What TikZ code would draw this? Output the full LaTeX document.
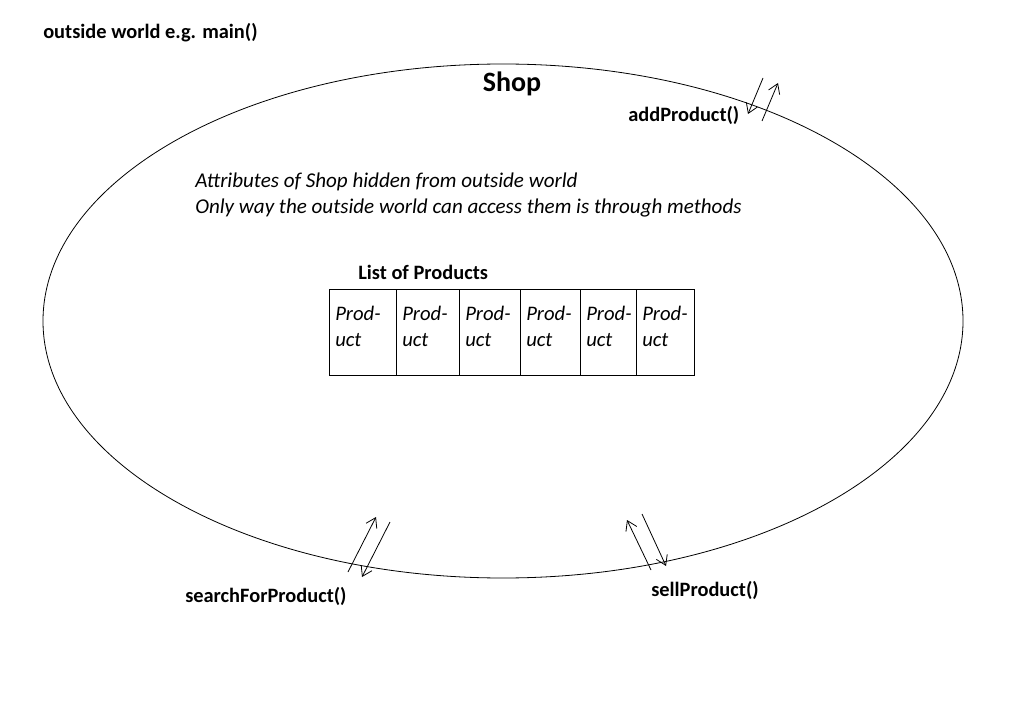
\documentclass[tikz,border=0pt]{standalone}
\usepackage{fontspec}
\setmainfont{Carlito}
\usetikzlibrary{arrows.meta}
\begin{document}
\begin{tikzpicture}[x=0.75pt,y=-0.75pt,
  lbl/.style={font=\bfseries\fontsize{15.3}{17}\selectfont,inner sep=0pt},
  arr/.style={-{Straight Barb[length=7pt,width=9pt]},line width=0.6pt},
  cell/.style={draw,line width=0.6pt,minimum height=64.5pt,anchor=north west,inner sep=0pt}]
\useasboundingbox[fill=white] (0,0) rectangle (1010,709);
\node[lbl,anchor=west] (ow) at (43,33) {outside world e.g. main()};
\draw[line width=0.6pt] (503,321) ellipse [x radius=460, y radius=257];
\node[lbl,font=\bfseries\fontsize{21}{24}\selectfont] (shop) at (512,84) {Shop};
\node[lbl,anchor=west] (ap) at (628,115) {addProduct()};
\node[lbl,anchor=west] (sp) at (185,596) {searchForProduct()};
\node[lbl,anchor=west] (sel) at (651,590) {sellProduct()};
\node[anchor=north west,align=left,font=\itshape\fontsize{15.8}{19.5}\selectfont,inner sep=0pt] (attr) at (195,173)
 {Attributes of Shop hidden from outside world\\Only way the outside world can access them is through methods};
\node[lbl,anchor=west] (lp) at (358,272) {List of Products};
\foreach \a/\b [count=\i] in {329/396,396/459,459/520,520/580,580/636,636/694}{
  \node[cell,minimum width={(\b-\a)*0.75pt}] (c\i) at (\a,289) {};
  \node[anchor=north west,align=left,font=\itshape\fontsize{15.5}{19.5}\selectfont,inner sep=0pt] (t\i) at (\a+6,306) {Prod-\\uct};
}
\coordinate (a1) at (763,78); \coordinate (a2) at (748,114);
\coordinate (a3) at (762,121); \coordinate (a4) at (778,83);
\draw[arr] (a1) -- (a2); \draw[arr] (a3) -- (a4);
\coordinate (s1) at (348,572); \coordinate (s2) at (376,517);
\coordinate (s3) at (390,522); \coordinate (s4) at (362,577);
\draw[arr] (s1) -- (s2); \draw[arr] (s3) -- (s4);
\coordinate (p1) at (651,570); \coordinate (p2) at (627,520);
\coordinate (p3) at (642,514); \coordinate (p4) at (666,566);
\draw[arr] (p1) -- (p2); \draw[arr] (p3) -- (p4);
\end{tikzpicture}
\end{document}
